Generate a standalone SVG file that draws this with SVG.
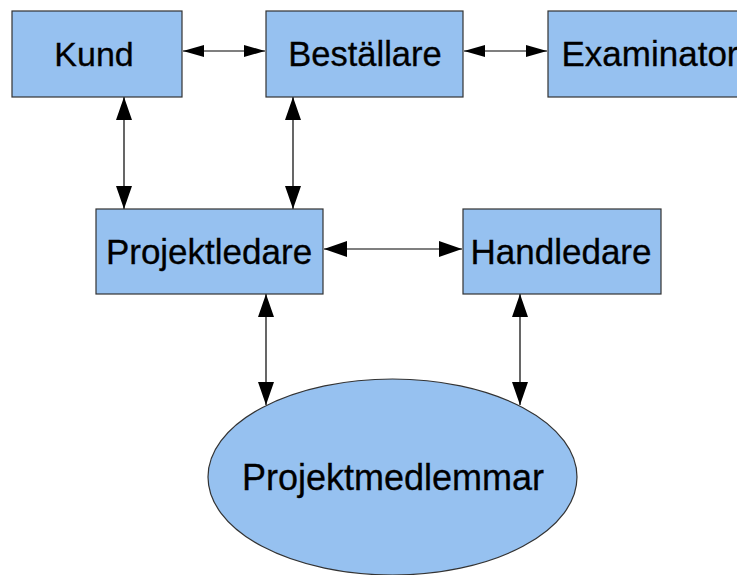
<svg xmlns="http://www.w3.org/2000/svg" width="737" height="575" viewBox="0 0 737 575">
<style>
.box{fill:#96c1f0;stroke:#333;stroke-width:1.2}
.lbl{font-family:"Liberation Sans",Arial,sans-serif;fill:#000;stroke:#000;stroke-width:0.3;text-anchor:middle}
.c{stroke:#000;stroke-width:1.2;fill:none}
.big{marker-start:url(#ab);marker-end:url(#ab)}
.small{marker-start:url(#as);marker-end:url(#as)}
</style>
<defs>
<marker id="ab" markerUnits="userSpaceOnUse" markerWidth="23" markerHeight="16" refX="23" refY="8" orient="auto-start-reverse" viewBox="0 0 23 16"><path d="M0,0 L23,8 L0,16 z" fill="#000"/></marker>
<marker id="as" markerUnits="userSpaceOnUse" markerWidth="21" markerHeight="12" refX="21" refY="6" orient="auto-start-reverse" viewBox="0 0 21 12"><path d="M0,0 L21,6 L0,12 z" fill="#000"/></marker>
</defs>
<rect width="737" height="575" fill="#fff"/>
<g id="connectors">
<line class="c small" x1="183" y1="51" x2="265" y2="51"/>
<line class="c small" x1="464" y1="51" x2="547" y2="51"/>
<line class="c big" x1="124" y1="97" x2="124" y2="209"/>
<line class="c big" x1="293" y1="97" x2="293" y2="209"/>
<line class="c big" x1="324" y1="249" x2="462" y2="249"/>
<line class="c big" x1="266" y1="294" x2="266" y2="405"/>
<line class="c big" x1="520" y1="294" x2="520" y2="405"/>
</g>
<g id="kund"><rect class="box" x="12" y="11" width="170" height="86"/><text class="lbl" x="94" y="66" font-size="34">Kund</text></g>
<g id="bestallare"><rect class="box" x="266" y="11" width="197" height="86"/><text class="lbl" x="365" y="66" font-size="34.5">Beställare</text></g>
<g id="examinator"><rect class="box" x="548" y="11" width="198" height="86"/><text class="lbl" x="650" y="66" font-size="35">Examinator</text></g>
<g id="projektledare"><rect class="box" x="96" y="209" width="227" height="85"/><text class="lbl" x="209" y="264" font-size="35">Projektledare</text></g>
<g id="handledare"><rect class="box" x="463" y="209" width="198" height="85"/><text class="lbl" x="561" y="264" font-size="35">Handledare</text></g>
<g id="projektmedlemmar"><ellipse class="box" cx="392.5" cy="477" rx="184.5" ry="98"/><text class="lbl" x="393" y="490" font-size="36">Projektmedlemmar</text></g>
</svg>
